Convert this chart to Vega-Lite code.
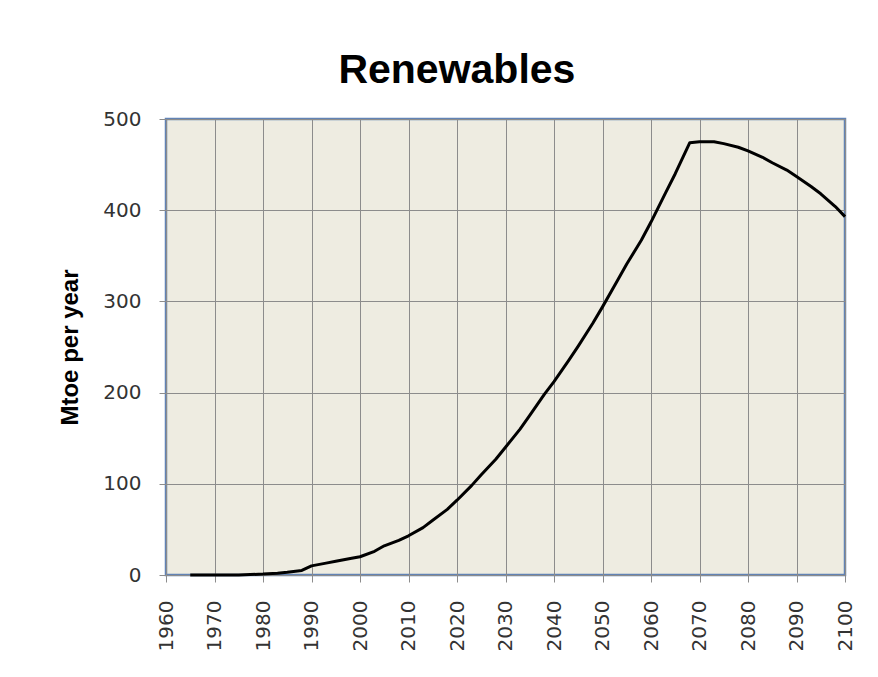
{
  "$schema": "https://vega.github.io/schema/vega-lite/v6.json",
  "width": 679,
  "height": 456,
  "autosize": {"type": "none"},
  "padding": {"left": 166, "top": 119, "right": 33, "bottom": 102},
  "background": "white",
  "title": {
    "text": "Renewables",
    "font": "Liberation Sans",
    "fontSize": 41,
    "fontWeight": "bold",
    "color": "#000000",
    "anchor": "middle",
    "frame": "bounds",
    "offset": 17
  },
  "config": {
    "view": {"fill": "#EEECE1", "stroke": "#6283B5", "strokeWidth": 2.5},
    "axis": {
      "domain": false,
      "gridColor": "#8C8C8C",
      "gridWidth": 1,
      "gridOpacity": 1,
      "tickColor": "#8C8C8C",
      "tickSize": 7,
      "labelFont": "DejaVu Sans",
      "labelFontSize": 20,
      "labelColor": "#333333",
      "titleFont": "Liberation Sans",
      "titleFontWeight": "bold",
      "titleFontSize": 24,
      "titleColor": "#000000"
    }
  },
  "data": {
    "values": [
      {"year": 1965, "mtoe": 0},
      {"year": 1970, "mtoe": 0},
      {"year": 1975, "mtoe": 0},
      {"year": 1980, "mtoe": 1},
      {"year": 1983, "mtoe": 2},
      {"year": 1985, "mtoe": 3},
      {"year": 1988, "mtoe": 5},
      {"year": 1990, "mtoe": 10},
      {"year": 1993, "mtoe": 13},
      {"year": 1995, "mtoe": 15},
      {"year": 1998, "mtoe": 18},
      {"year": 2000, "mtoe": 20},
      {"year": 2003, "mtoe": 26},
      {"year": 2005, "mtoe": 32},
      {"year": 2008, "mtoe": 38},
      {"year": 2010, "mtoe": 43},
      {"year": 2013, "mtoe": 52},
      {"year": 2015, "mtoe": 60},
      {"year": 2018, "mtoe": 72},
      {"year": 2020, "mtoe": 82},
      {"year": 2023, "mtoe": 98},
      {"year": 2025, "mtoe": 110},
      {"year": 2028, "mtoe": 127},
      {"year": 2030, "mtoe": 140},
      {"year": 2033, "mtoe": 160},
      {"year": 2035, "mtoe": 175},
      {"year": 2038, "mtoe": 198},
      {"year": 2040, "mtoe": 212},
      {"year": 2043, "mtoe": 235},
      {"year": 2045, "mtoe": 251},
      {"year": 2048, "mtoe": 276},
      {"year": 2050, "mtoe": 294},
      {"year": 2053, "mtoe": 322},
      {"year": 2055, "mtoe": 341},
      {"year": 2058, "mtoe": 367},
      {"year": 2060, "mtoe": 387},
      {"year": 2063, "mtoe": 419},
      {"year": 2065, "mtoe": 440},
      {"year": 2068, "mtoe": 474},
      {"year": 2070, "mtoe": 475},
      {"year": 2073, "mtoe": 475},
      {"year": 2075, "mtoe": 473},
      {"year": 2078, "mtoe": 469},
      {"year": 2080, "mtoe": 465},
      {"year": 2083, "mtoe": 458},
      {"year": 2085, "mtoe": 452},
      {"year": 2088, "mtoe": 444},
      {"year": 2090, "mtoe": 437},
      {"year": 2093, "mtoe": 426},
      {"year": 2095, "mtoe": 418},
      {"year": 2098, "mtoe": 404},
      {"year": 2100, "mtoe": 393}
    ]
  },
  "mark": {"type": "line", "color": "#000000", "strokeWidth": 3, "interpolate": "linear", "strokeJoin": "round"},
  "encoding": {
    "x": {
      "field": "year",
      "type": "quantitative",
      "scale": {"domain": [1960, 2100], "nice": false, "zero": false},
      "axis": {
        "values": [1960, 1970, 1980, 1990, 2000, 2010, 2020, 2030, 2040, 2050, 2060, 2070, 2080, 2090, 2100],
        "format": "d",
        "labelAngle": -90,
        "labelAlign": "right",
        "labelBaseline": "middle",
        "labelPadding": 18,
        "labelOverlap": false,
        "labelFlush": false,
        "title": null
      }
    },
    "y": {
      "field": "mtoe",
      "type": "quantitative",
      "scale": {"domain": [0, 500], "nice": false},
      "axis": {
        "values": [0, 100, 200, 300, 400, 500],
        "labelPadding": 18,
        "labelFlush": false,
        "title": "Mtoe per year",
        "titlePadding": 20
      }
    }
  }
}
